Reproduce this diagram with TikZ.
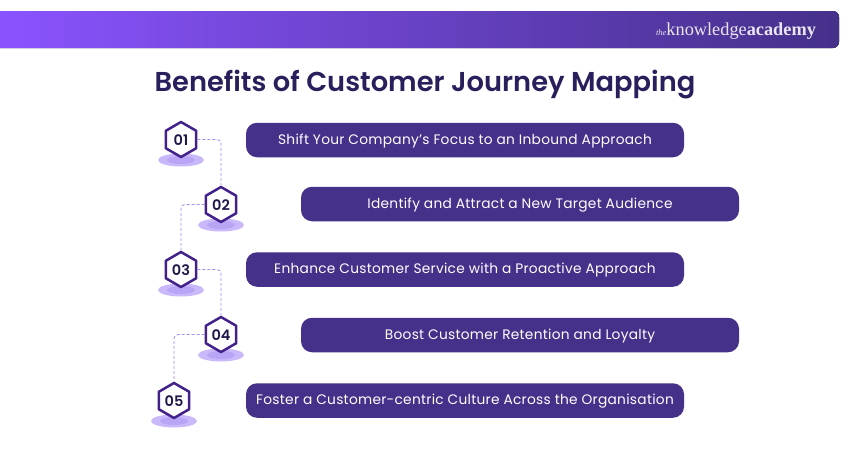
\documentclass[tikz,border=0pt]{standalone}
\usepackage{fontspec}
\setmainfont{Poppins}
\newfontfamily\semifont{Poppins SemiBold}
\newfontfamily\logofont{Liberation Serif}
\usetikzlibrary{shapes.geometric}
\definecolor{barpurple}{HTML}{45308A}
\definecolor{barleft}{HTML}{8B53FF}
\definecolor{hexline}{HTML}{42218A}
\definecolor{titleink}{HTML}{2A1F5C}
\definecolor{numink}{HTML}{21184A}
\definecolor{linklilac}{HTML}{A58CF0}
\definecolor{shadeout}{HTML}{C9B8FA}
\definecolor{shadein}{HTML}{B9A5F6}

\tikzset{
  x=1pt,y=-1pt,
  steptext/.style={rectangle,rounded corners=11pt,fill=barpurple,text=white,minimum height=34.5pt,minimum width=438pt,inner sep=0pt,text height=10pt,text depth=2pt,font=\fontsize{13.75pt}{15pt}\selectfont\addfontfeature{LetterSpace=2}},
  hexnode/.style={regular polygon,regular polygon sides=6,shape border rotate=30,draw=hexline,line width=2.5pt,line join=round,fill=white,minimum size=35pt,inner sep=0pt,text height=11pt,text depth=0pt,text=numink,font=\semifont\fontsize{14.5pt}{16pt}\selectfont},
  linkline/.style={draw=linklilac,line width=0.8pt,densely dashed,rounded corners=4pt},
}

\begin{document}
\begin{tikzpicture}

\path [use as bounding box] (0,0) rectangle (850,450);
\fill [white] (0,0) rectangle (850,450);

% Top bar
\fill [left color=barleft,right color=barpurple,rounded corners=6pt] (-8,11) rectangle (839,48);
\node (logo) at (736,31) {\logofont\color{white!88!barpurple}\fontsize{8.5pt}{9pt}\selectfont\itshape the\fontsize{18.3pt}{19pt}\selectfont\upshape knowledge\bfseries academy};

\node (title) at (425,85) {\color{titleink}\semifont\fontsize{27.3pt}{30pt}\selectfont Benefits of Customer Journey Mapping};

% Shadows
\foreach \sx/\sy in {181/160,221/225,181/290,221/355,174/421}{
  \fill [shadeout] (\sx,\sy) ellipse (23 and 6.5);
  \fill [shadein] (\sx,\sy) ellipse (14 and 4);
}

% Hexagons
\node [hexnode] (n1) at (181,139.5) {01};
\node [hexnode] (n2) at (221,204.5) {02};
\node [hexnode] (n3) at (181,269.5) {03};
\node [hexnode] (n4) at (221,334.5) {04};
\node [hexnode] (n5) at (174,400.5) {05};

% Lines
\draw [linkline] (n1.east) -| (n2.north);
\draw [linkline] (n2.west) -| (n3.north);
\draw [linkline] (n3.east) -| (n4.north);
\draw [linkline] (n4.west) -| (n5.north);

% Bars
\node [steptext] (s1) at (465,140) {Shift Your Company’s Focus to an Inbound Approach};
\node [steptext] (s2) at (520,204) {Identify and Attract a New Target Audience};
\node [steptext] (s3) at (465,269.5) {Enhance Customer Service with a Proactive Approach};
\node [steptext] (s4) at (520,335) {Boost Customer Retention and Loyalty};
\node [steptext] (s5) at (465,400.5) {Foster a Customer-centric Culture Across the Organisation};

\end{tikzpicture}
\end{document}
